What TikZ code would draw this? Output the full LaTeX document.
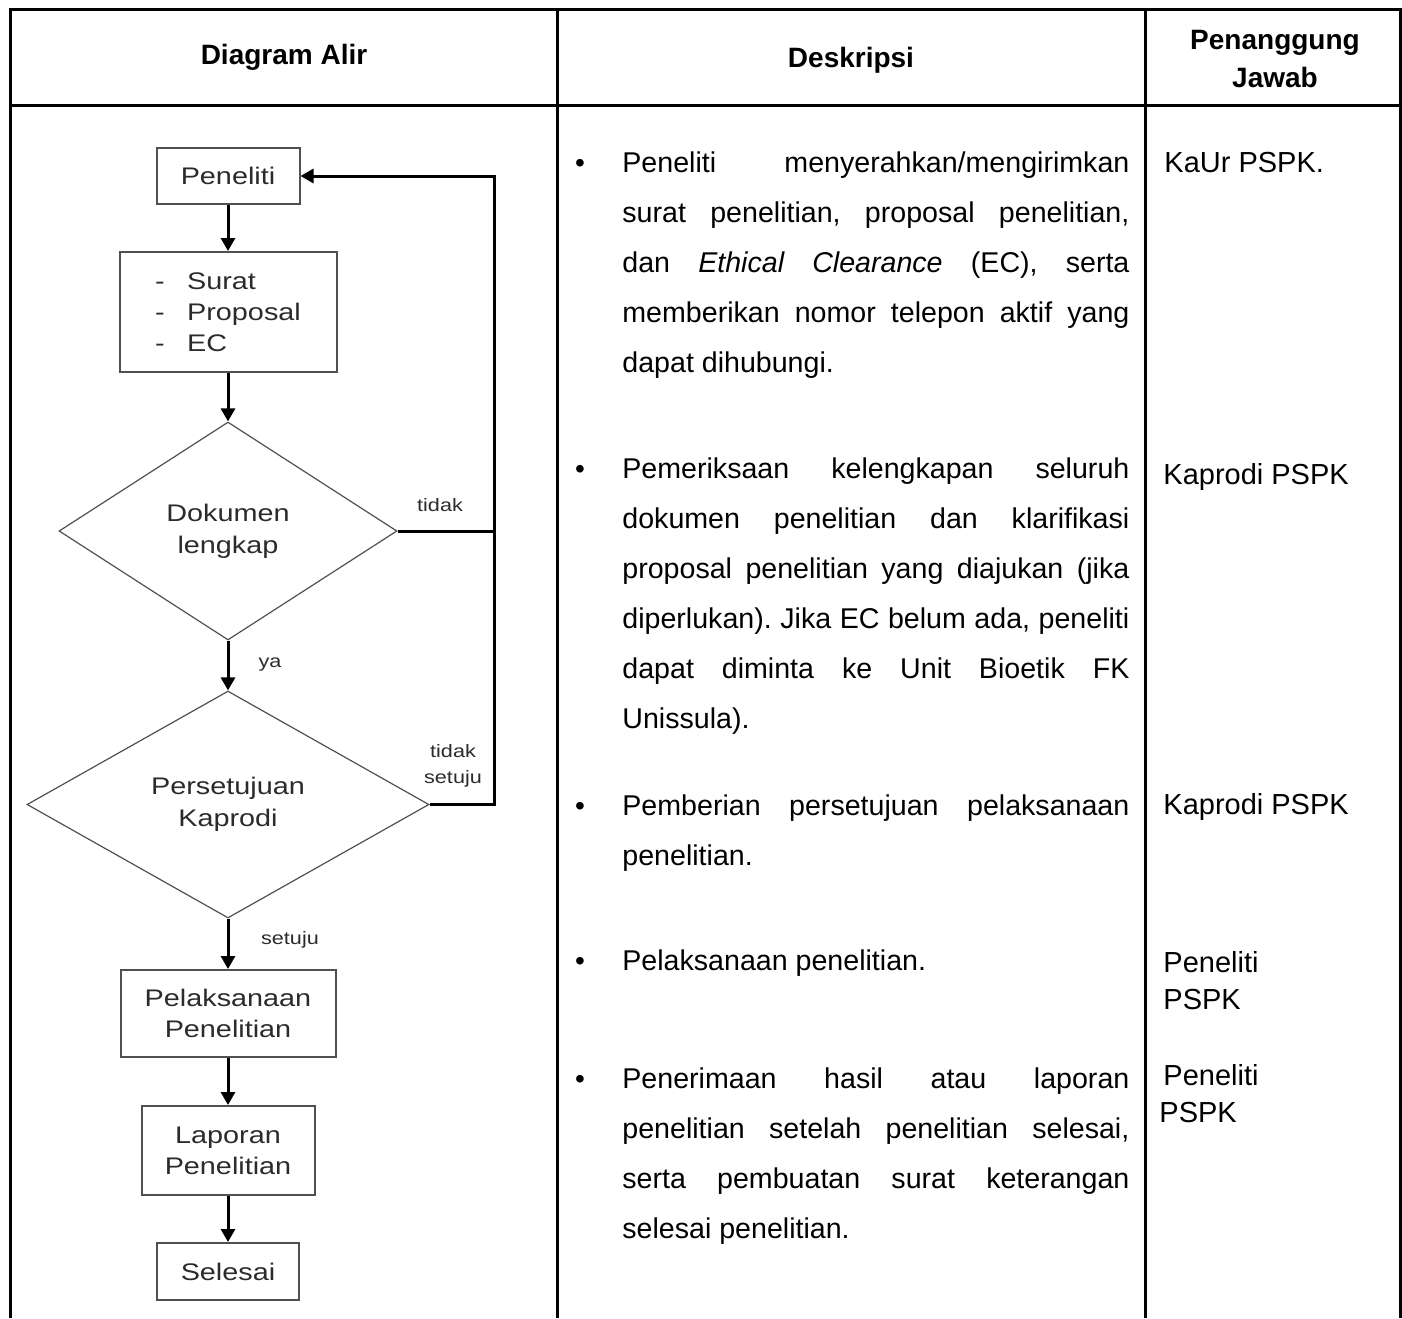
\documentclass[tikz,border=0pt]{standalone}
\usepackage{fontspec}
\setmainfont{Liberation Sans}
\newfontfamily\alirfont[FakeStretch=1.2]{Liberation Sans}
\usetikzlibrary{arrows.meta, shapes.geometric, positioning}
\definecolor{abu}{HTML}{2B2B2B}
\definecolor{garisabu}{HTML}{505050}
\tolerance=10000
\hyphenpenalty=10000
\frenchspacing
\tikzset{tabel/.style={line width=1.5pt, line join=miter},
    kotak/.style={draw=garisabu, line width=1pt, inner sep=0pt, text=abu,
        font=\alirfont\fontsize{12}{15.5}\selectfont, align=center},
    belah/.style={diamond, draw=garisabu, line width=0.6pt, inner sep=0pt, aspect=1,
        text=abu, font=\alirfont\fontsize{12}{16}\selectfont, align=center},
    panah/.style={line width=1.5pt, -{Triangle[length=6.5pt,width=7pt]}},
    garis/.style={line width=1.5pt},
    ket/.style={text=abu, inner sep=0pt, font=\alirfont\fontsize{9}{13}\selectfont, align=center},
    judul/.style={inner sep=0pt, font=\bfseries\fontsize{14}{19}\selectfont, align=center},
    deskripsi/.style={anchor=base west, inner sep=0pt, text width=253.5pt, align=justify,
        font=\fontsize{14.3}{25}\selectfont},
    butir/.style={anchor=base, inner sep=0pt, font=\fontsize{14}{25}\selectfont},
    pj/.style={anchor=base west, inner sep=0pt, align=left, font=\fontsize{14.5}{18.5}\selectfont}}

\begin{document}
\begin{tikzpicture}[x=0.5pt, y=-0.5pt]
    \useasboundingbox (0,0) rectangle (1402,1318);
    \draw[tabel] (10,1318) -- (10,9) -- (1400,9) -- (1400,1318);
    \draw[tabel] (10,105) -- (1400,105);
    \draw[tabel] (557,9) -- (557,1318);
    \draw[tabel] (1145,9) -- (1145,1318);

    \node[judul] (hdiagram) at (284,57) {Diagram Alir};
    \node[judul] (hdeskripsi) at (851,60) {Deskripsi};
    \node[judul] (hpj) at (1275,59) {Penanggung\\Jawab};

    \node[kotak, minimum width=71.5pt, minimum height=28pt] (peneliti) at (228,176) {Peneliti};
    \node[kotak, minimum width=108.5pt, minimum height=60pt, align=left] (berkas) at (228,312)
        {\makebox[16pt][l]{-}Surat\\\makebox[16pt][l]{-}Proposal\\\makebox[16pt][l]{-}EC};
    \node[belah, minimum width=169pt, minimum height=109pt] (dokumen) at (228,531) {Dokumen\\lengkap};
    \node[belah, minimum width=201pt, minimum height=113.5pt] (setuju) at (228,804.5) {Persetujuan\\Kaprodi};
    \node[kotak, minimum width=107.5pt, minimum height=43.5pt] (pelaksanaan) at (228,1013.5) {Pelaksanaan\\Penelitian};
    \node[kotak, minimum width=86.5pt, minimum height=44.5pt] (laporan) at (228,1150.5) {Laporan\\Penelitian};
    \node[kotak, minimum width=71pt, minimum height=28.5pt] (selesai) at (228,1271.5) {Selesai};
    \coordinate (balik) at (494,176);

    \draw[panah] (peneliti) -- (berkas);
    \draw[panah] (berkas) -- (dokumen);
    \draw[panah] (dokumen) -- (setuju);
    \draw[panah] (setuju) -- (pelaksanaan);
    \draw[panah] (pelaksanaan) -- (laporan);
    \draw[panah] (laporan) -- (selesai);
    \draw[panah] (setuju.east) -| (balik) -- (peneliti.east);
    \draw[garis] (dokumen.east) -- (dokumen.east -| balik);

    \node[ket] (ktidak) at (440,505) {tidak};
    \node[ket] (ktidaksetuju) at (453,766) {tidak\\setuju};
    \node[ket] (kya) at (270,665) {ya};
    \node[ket] (ksetuju) at (290,940) {setuju};

    \node[butir] (b1) at (580,172) {\textbullet};
    \node[deskripsi] (d1) at (622,172) {Peneliti menyerahkan/mengirimkan\linebreak
        surat penelitian, proposal penelitian,\linebreak
        dan \textit{Ethical Clearance} (EC), serta\linebreak
        memberikan nomor telepon aktif yang\linebreak
        dapat dihubungi.};
    \node[butir] (b2) at (580,478) {\textbullet};
    \node[deskripsi] (d2) at (622,478) {Pemeriksaan kelengkapan seluruh\linebreak
        dokumen penelitian dan klarifikasi\linebreak
        proposal penelitian yang diajukan (jika\linebreak
        diperlukan). Jika EC belum ada, peneliti\linebreak
        dapat diminta ke Unit Bioetik FK\linebreak
        Unissula).};
    \node[butir] (b3) at (580,815) {\textbullet};
    \node[deskripsi] (d3) at (622,815) {Pemberian persetujuan pelaksanaan\linebreak
        penelitian.};
    \node[butir] (b4) at (580,970) {\textbullet};
    \node[deskripsi] (d4) at (622,970) {Pelaksanaan penelitian.};
    \node[butir] (b5) at (580,1088) {\textbullet};
    \node[deskripsi] (d5) at (622,1088) {Penerimaan hasil atau laporan\linebreak
        penelitian setelah penelitian selesai,\linebreak
        serta pembuatan surat keterangan\linebreak
        selesai penelitian.};

    \node[pj] (pj1) at (1164,172) {KaUr PSPK.};
    \node[pj] (pj2) at (1163,484) {Kaprodi PSPK};
    \node[pj] (pj3) at (1163,814) {Kaprodi PSPK};
    \node[pj] (pj4) at (1163,1009) {Peneliti\\PSPK};
    \node[pj] (pj5) at (1163,1122) {Peneliti\\\hspace*{-2pt}PSPK};
\end{tikzpicture}
\end{document}
